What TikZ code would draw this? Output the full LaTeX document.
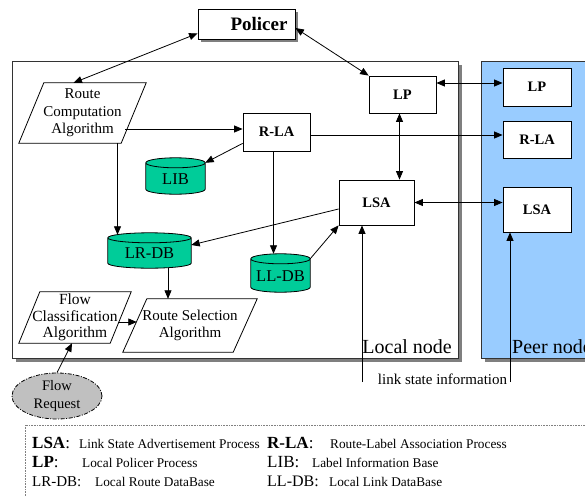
\documentclass[tikz,border=0pt]{standalone}
\usepackage{fontspec}
\setmainfont{Liberation Serif}
\usetikzlibrary{arrows.meta,calc,shadows,shapes.geometric}

\definecolor{dbgreen}{HTML}{00CC99}
\definecolor{peerblue}{HTML}{99CCFF}
\definecolor{reqgray}{HTML}{C0C0C0}
\definecolor{shadowgray}{HTML}{7F7F7F}
\definecolor{framegray}{HTML}{333333}

\pgfdeclarelayer{back}
\pgfdeclarelayer{mid}
\pgfsetlayers{back,mid,main}

\newcommand\fsz[2]{\fontsize{#1}{#2}\selectfont}

% parallelogram outline around an invisible rectangular node
\newcommand\slantframe[2]{%
  \draw[outline] ($(#1.north west)+(#2,0)$) -- (#1.north east)
    -- ($(#1.south east)+(-#2,0)$) -- (#1.south west) -- cycle;}

% database drum around an invisible rectangular node
\newcommand\drum[1]{%
  \path[outline, fill=dbgreen] let \p1=(#1.north west), \p2=(#1.south east),
    \n1={0.5*(\x2-\x1)} in
    (\x1,\y1-5pt) -- (\x1,\y2+5pt)
      arc[start angle=180, end angle=360, x radius=\n1, y radius=5pt]
      -- (\x2,\y1-5pt)
      arc[start angle=0, end angle=180, x radius=\n1, y radius=5pt] -- cycle
    (\x1,\y1-5pt) arc[start angle=180, end angle=360, x radius=\n1, y radius=5pt];}

\tikzset{
  outline/.style={draw=black, line width=0.8pt},
  procbox/.style={outline, fill=white, inner sep=0pt, font=\fsz{14.5}{17}\bfseries},
  slanted/.style={inner sep=0pt, align=center},
  drumnode/.style={inner sep=0pt, font=\fsz{16.5}{19}, text height=16pt, text depth=0pt},
  container/.style={draw=framegray, line width=0.8pt,
    drop shadow={shadow xshift=3.5pt, shadow yshift=-3.5pt, fill=shadowgray, opacity=1}},
  conn/.style={draw=black, line width=0.8pt},
  keyterm/.style={anchor=base west, inner sep=0pt, font=\fsz{17}{20}},
  keytext/.style={anchor=base west, inner sep=0pt, font=\fsz{13.3}{15}},
}

\begin{document}
\begin{tikzpicture}[x=1pt, y=-1pt, >={Triangle[length=8.5pt,width=7pt]}]
\useasboundingbox (0,0) rectangle (585,495);

% node containers
\begin{pgfonlayer}{back}
  \node[container, fill=white, minimum width=446pt, minimum height=297pt] (localnode) at (235,209.5) {};
  \node[container, fill=peerblue, minimum width=139pt, minimum height=297pt] (peernode) at (550.5,209.5) {};
\end{pgfonlayer}

\node[anchor=base east, inner sep=0pt, font=\fsz{20}{24}] (localtxt) at (452,353) {Local node};
\node[anchor=base west, inner sep=0pt, font=\fsz{20}{24}] (peertxt) at (512,353) {Peer node};

% policer
\node[outline, fill=white, minimum width=97pt, minimum height=30pt, text width=82pt,
      align=right, inner xsep=7.5pt, inner ysep=0pt, font=\fsz{19}{22}\bfseries,
      drop shadow={shadow xshift=3pt, shadow yshift=-3pt, fill=shadowgray, opacity=1}]
      (pol) at (246.5,24) {Policer};

% processes of the local node
\node[procbox, minimum width=67pt, minimum height=38pt] (rla) at (276.5,132) {R-LA};
\node[procbox, minimum width=67pt, minimum height=37pt] (lp) at (402.5,94.5) {LP};
\node[procbox, minimum width=75pt, minimum height=45pt] (lsa) at (376.5,202.5) {LSA};

% processes of the peer node
\node[procbox, minimum width=68pt, minimum height=38pt] (plp) at (537,87) {LP};
\node[procbox, minimum width=68pt, minimum height=37pt] (prla) at (537,139.5) {R-LA};
\node[procbox, minimum width=68pt, minimum height=45pt] (plsa) at (537,209.5) {LSA};

% algorithms
\node[slanted, minimum width=127pt, minimum height=60pt, font=\fsz{15}{17.5}] (rca) at (82.5,113)
  {Route\\Computation\\Algorithm};
\node[slanted, minimum width=112pt, minimum height=51pt, font=\fsz{15.5}{16.5}] (fca) at (75,317.5)
  {Flow\\Classification\\Algorithm};
\node[slanted, minimum width=134pt, minimum height=53pt, font=\fsz{15}{17}] (rsa) at (190,325.5)
  {Route Selection\\Algorithm};
\slantframe{rca}{25}
\slantframe{fca}{21}
\slantframe{rsa}{24}

% databases
\node[drumnode, minimum width=59pt, minimum height=36pt] (lib) at (175.5,176) {LIB};
\node[drumnode, minimum width=83pt, minimum height=35pt] (lrdb) at (149.5,250.5) {LR-DB};
\node[drumnode, minimum width=59pt, minimum height=38pt] (lldb) at (280.5,273) {LL-DB};
\begin{pgfonlayer}{mid}
  \drum{lib}
  \drum{lrdb}
  \drum{lldb}
\end{pgfonlayer}

% flow request
\node[ellipse, draw=black, line width=0.8pt, fill=reqgray,
      dash pattern=on 4pt off 1.5pt on 1pt off 1.5pt,
      minimum width=90pt, minimum height=46pt, inner sep=0pt, align=center,
      font=\fsz{14.5}{18}] (freq) at (57,396) {Flow\\Request};

% link state information
\node[anchor=base, inner sep=0pt, font=\fsz{15}{18}] (lsi) at (442.5,384) {link state information};
\coordinate (lsifoot) at (362,382);
\coordinate (plsifoot) at (510,382);

% connectors
\draw[conn, <->] ([yshift=6pt]pol.south west) -- ([xshift=-9pt]rca.north);
\draw[conn, <->] ([yshift=-4pt]pol.east) -- (lp.north west);
\draw[conn, ->] ($(rca.east |- rla.west)+(-21,-3)$) -- ($(rla.west)+(0,-3)$);
\draw[conn, ->] ([yshift=8pt]rla.south west) -- ([yshift=-5pt]lib.north east);
\draw[conn, ->] ($(lrdb.north |- rca.south)+(-32,0)$) -- ($(lrdb.north)+(-32,2)$);
\draw[conn, ->] ($(rla.south)+(-3,0)$) -- ($(rla.south |- lldb.north)+(-3,0)$);
\draw[conn, ->] ($(rla.east)+(0,3)$) -- ($(rla.east -| prla.west)+(0,3)$);
\draw[conn, <->] ($(lp.south)+(-3,0)$) -- ($(lp.south |- lsa.north)+(-3,0)$);
\draw[conn, <->] ($(plp.west)+(0,-4)$) -- ($(plp.west -| lp.east)+(0,-4)$);
\draw[conn, <->] (lsa.east) -- (lsa.east -| plsa.west);
\draw[conn, ->] ($(lsa.west)+(0,6.5)$) -- ($(lrdb.east)+(0,-5.5)$);
\draw[conn, ->] ($(lldb.north east)+(0,5)$) -- (lsa.south west);
\draw[conn, ->] (lsifoot) -- (lsifoot |- lsa.south);
\draw[conn, ->] (plsifoot) -- (plsifoot |- plsa.south);
\draw[conn, ->] ($(lrdb.south)+(18.5,0)$) -- ($(lrdb.south |- rsa.north)+(18.5,0)$);
\draw[conn, ->] ($(fca.east)+(-13,4.5)$) -- ($(rsa.west |- fca.east)+(14,4.5)$);
\draw[conn, ->] (freq.north) -- ($(fca.south)+(-3,0)$);

% legend
\draw[draw=gray, line width=0.6pt, dash pattern=on 0.8pt off 0.8pt] (25,425) rectangle (610,520);
\node[keyterm] (kLSA) at (32,448) {\textbf{LSA}:};
\node[keytext] (dLSA) at (79,448) {Link State Advertisement Process};
\node[keyterm] (kRLA) at (267,448) {\textbf{R-LA}:};
\node[keytext] (dRLA) at (330,448) {Route-Label Association Process};
\node[keyterm] (kLP) at (32,467) {\textbf{LP}:};
\node[keytext] (dLP) at (82,467) {Local Policer Process};
\node[keyterm] (kLIB) at (267,467) {LIB:};
\node[keytext] (dLIB) at (312,467) {Label Information Base};
\node[keyterm, font=\fsz{15}{18}] (kLRDB) at (32,486) {LR-DB:};
\node[keytext] (dLRDB) at (95,486) {Local Route DataBase};
\node[keyterm, font=\fsz{16}{19}] (kLLDB) at (267,486) {LL-DB:};
\node[keytext] (dLLDB) at (329,486) {Local Link DataBase};
\end{tikzpicture}
\end{document}
